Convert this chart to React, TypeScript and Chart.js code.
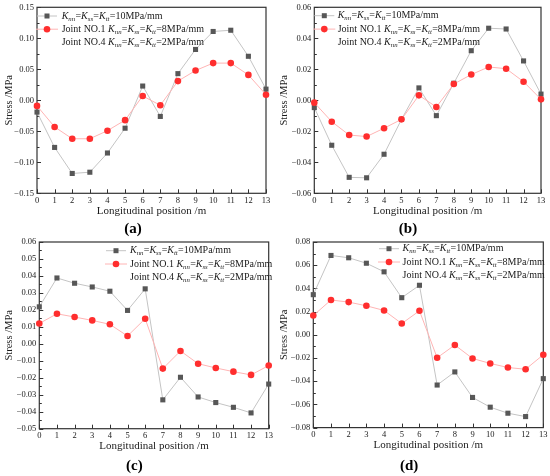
import React, { useEffect, useRef } from "react";
import { Chart, registerables } from "chart.js";

Chart.register(...registerables);

const FONT = "'Liberation Serif', 'DejaVu Serif', serif";
const TEXT = "#1a1a1a";

// ---- data ----
const positions = [0, 1, 2, 3, 4, 5, 6, 7, 8, 9, 10, 11, 12, 13];

const legendLabels = [
  "K_nn=K_ss=K_tt=10MPa/mm",
  "Joint NO.1 K_nn=K_ss=K_tt=8MPa/mm",
  "Joint NO.4 K_nn=K_ss=K_tt=2MPa/mm",
];

const greyA = [-0.019, -0.076, -0.118, -0.116, -0.085, -0.045, 0.023, -0.026, 0.043, 0.082, 0.111, 0.113, 0.071, 0.018];
const redA = [-0.009, -0.043, -0.062, -0.062, -0.049, -0.032, 0.007, -0.008, 0.031, 0.048, 0.06, 0.06, 0.041, 0.009];
const ticksA = [-0.15, -0.1, -0.05, 0, 0.05, 0.1, 0.15];

const greyB = [-0.0047, -0.029, -0.0497, -0.05, -0.0348, -0.0123, 0.008, -0.0099, 0.011, 0.032, 0.0465, 0.046, 0.0254, 0.004];
const redB = [-0.0015, -0.0138, -0.0224, -0.0234, -0.018, -0.0123, 0.0032, -0.0043, 0.0105, 0.0166, 0.0215, 0.0204, 0.012, 0.0006];
const ticksB = [-0.06, -0.04, -0.02, 0, 0.02, 0.04, 0.06];

const greyC = [0.0218, 0.0388, 0.0357, 0.0335, 0.031, 0.0197, 0.0324, -0.033, -0.0197, -0.0313, -0.0346, -0.0374, -0.0407, -0.0237];
const redC = [0.012, 0.0177, 0.0158, 0.0138, 0.0115, 0.0046, 0.0148, -0.0146, -0.0042, -0.0117, -0.0142, -0.0164, -0.0183, -0.0128];
const ticksC = [-0.05, -0.04, -0.03, -0.02, -0.01, 0, 0.01, 0.02, 0.03, 0.04, 0.05, 0.06];

const greyD = [0.0346, 0.0684, 0.0664, 0.0617, 0.0543, 0.032, 0.0427, -0.0433, -0.032, -0.054, -0.0624, -0.0676, -0.0705, -0.0378];
const redD = [0.0166, 0.03, 0.0282, 0.025, 0.021, 0.0097, 0.0207, -0.0198, -0.0088, -0.0204, -0.0247, -0.0282, -0.0297, -0.0172];
const ticksD = [-0.08, -0.06, -0.04, -0.02, 0, 0.02, 0.04, 0.06, 0.08];

// ---- layout (canvas-relative geometry) ----
const W = 275;
const H = 238;

type Panel = {
  name: string;
  grey: number[];
  red: number[];
  ticks: number[];
  x: number;
  y: number;
  l: number;
  t: number;
  r: number;
  b: number;
  markerX: number;
  textX: number;
  y0: number;
  dy: number;
  xTitleY: number;
  labelY: number;
};

const panels: Panel[] = [
  { name: "(a)", grey: greyA, red: redA, ticks: ticksA, x: 0, y: 0, l: 37, t: 7.3, r: 266, b: 193.3, markerX: 47, textX: 61.7, y0: 16, dy: 13.2, xTitleY: 210.7, labelY: 229.3 },
  { name: "(b)", grey: greyB, red: redB, ticks: ticksB, x: 275, y: 0, l: 39.3, t: 7.3, r: 266, b: 193.3, markerX: 49.3, textX: 62.7, y0: 15.7, dy: 13.4, xTitleY: 210.7, labelY: 230 },
  { name: "(c)", grey: greyC, red: redC, ticks: ticksC, x: 0, y: 238, l: 39.3, t: 3.3, r: 268.7, b: 190.7, markerX: 116, textX: 130, y0: 12.7, dy: 13.3, xTitleY: 208.3, labelY: 228.3 },
  { name: "(d)", grey: greyD, red: redD, ticks: ticksD, x: 275, y: 238, l: 38.3, t: 4, r: 268.3, b: 189.6, markerX: 114, textX: 127.5, y0: 10.7, dy: 13.3, xTitleY: 207.3, labelY: 227.7 },
];

const fmt = (v: number) => {
  const n = Math.abs(v) < 1e-9 ? 0 : v;
  return n.toFixed(2).replace("-", "\u2212");
};

function drawRich(ctx: CanvasRenderingContext2D, x: number, y: number, label: string, size: number) {
  const parts = label.split(/(K_[a-z]+)/).filter((p) => p.length > 0);
  ctx.textBaseline = "middle";
  ctx.textAlign = "left";
  ctx.fillStyle = TEXT;
  for (const p of parts) {
    if (p.startsWith("K_")) {
      ctx.font = `italic ${size}px ${FONT}`;
      ctx.fillText("K", x, y);
      x += ctx.measureText("K").width;
      const sub = p.slice(2);
      const ss = size * 0.68;
      ctx.font = `italic ${ss}px ${FONT}`;
      ctx.fillText(sub, x, y + size * 0.3);
      x += ctx.measureText(sub).width + 0.3;
    } else {
      ctx.font = `${size}px ${FONT}`;
      ctx.fillText(p, x, y);
      x += ctx.measureText(p).width;
    }
  }
}

function makeFramePlugin(p: Panel) {
  return {
    id: "frame",
    beforeDatasetsDraw(chart: any) {
      const { ctx, chartArea: a, scales } = chart;
      const xs = scales.x;
      const ys = scales.y;
      ctx.save();
      ctx.strokeStyle = "#333";
      ctx.lineWidth = 1.2;
      ctx.strokeRect(a.left, a.top, a.right - a.left, a.bottom - a.top);
      ctx.lineWidth = 1;
      ctx.beginPath();
      positions.forEach((_, i) => {
        const px = Math.round(xs.getPixelForValue(i)) + 0.5;
        ctx.moveTo(px, a.bottom);
        ctx.lineTo(px, a.bottom - 4);
      });
      p.ticks.forEach((v, i) => {
        const py = Math.round(ys.getPixelForValue(v)) + 0.5;
        ctx.moveTo(a.left, py);
        ctx.lineTo(a.left + 4, py);
        if (i < p.ticks.length - 1) {
          const mid = (v + p.ticks[i + 1]) / 2;
          const pm = Math.round(ys.getPixelForValue(mid)) + 0.5;
          ctx.moveTo(a.left, pm);
          ctx.lineTo(a.left + 2.5, pm);
        }
      });
      ctx.stroke();
      ctx.restore();
    },
  };
}

function makeLegendPlugin(p: Panel) {
  return {
    id: "richLegend",
    afterDatasetsDraw(chart: any) {
      const { ctx } = chart;
      ctx.save();
      const size = 10;
      // entry 1: grey square
      let y = p.y0;
      ctx.strokeStyle = "#c4c4c4";
      ctx.lineWidth = 1;
      ctx.beginPath();
      ctx.moveTo(p.markerX - 10, y);
      ctx.lineTo(p.markerX + 10, y);
      ctx.stroke();
      ctx.fillStyle = "#575757";
      ctx.fillRect(p.markerX - 2.5, y - 2.5, 5, 5);
      drawRich(ctx, p.textX, y, legendLabels[0], size);
      // entry 2: red circle
      y = p.y0 + p.dy;
      ctx.strokeStyle = "#ffb4b4";
      ctx.beginPath();
      ctx.moveTo(p.markerX - 11, y);
      ctx.lineTo(p.markerX + 11, y);
      ctx.stroke();
      ctx.fillStyle = "#ff2e2e";
      ctx.beginPath();
      ctx.arc(p.markerX, y, 3.3, 0, Math.PI * 2);
      ctx.fill();
      drawRich(ctx, p.textX, y, legendLabels[1], size);
      // entry 3: no marker
      y = p.y0 + p.dy * 2;
      drawRich(ctx, p.textX, y, legendLabels[2], size);
      ctx.restore();
    },
  };
}

function PanelChart({ p }: { p: Panel }) {
  const ref = useRef<HTMLCanvasElement>(null);
  useEffect(() => {
    if (!ref.current) return;
    const titleSize = 15;
    const titleLh = titleSize * 1.2;
    const pb = Math.max(0, H - p.labelY - titleLh / 2);
    const xTitleLh = 11 * 1.2;
    const boxTop = p.xTitleY + xTitleLh / 2;
    const pt = Math.max(0, H - titleLh - pb - boxTop);
    const xh = boxTop - p.b;
    const chart = new Chart(ref.current, {
      type: "line",
      data: {
        labels: positions.map(String),
        datasets: [
          {
            label: legendLabels[1],
            data: p.red,
            borderColor: "#ffb4b4",
            borderWidth: 1,
            pointStyle: "circle",
            pointRadius: 3.3,
            pointBackgroundColor: "#ff2e2e",
            pointBorderWidth: 0,
            tension: 0,
            order: 1,
            clip: false,
          } as any,
          {
            label: legendLabels[0],
            data: p.grey,
            borderColor: "#c4c4c4",
            borderWidth: 1,
            pointStyle: "rect",
            pointRadius: 3.6,
            pointBackgroundColor: "#575757",
            pointBorderWidth: 0,
            tension: 0,
            order: 2,
            clip: false,
          } as any,
        ],
      },
      options: {
        responsive: false,
        animation: false,
        events: [],
        layout: { padding: { left: 0, top: p.t, right: W - p.r, bottom: pb } },
        plugins: {
          legend: { display: false },
          tooltip: { enabled: false },
          title: {
            display: true,
            text: p.name,
            position: "bottom",
            color: "#000",
            font: { family: FONT, size: titleSize, weight: "bold", lineHeight: 1.2 },
            padding: { top: pt, bottom: 0 },
          },
        },
        scales: {
          x: {
            type: "category",
            offset: false,
            grid: { display: false, drawTicks: false },
            border: { display: false },
            ticks: {
              color: TEXT,
              font: { family: FONT, size: 8.5 },
              padding: 2,
              maxRotation: 0,
              autoSkip: false,
            },
            title: {
              display: true,
              text: "Longitudinal position /m",
              color: TEXT,
              font: { family: FONT, size: 11, lineHeight: 1.2 },
              padding: 0,
            },
            afterFit: (s: any) => {
              s.height = xh;
              s.paddingLeft = 0;
              s.paddingRight = 0;
            },
          },
          y: {
            type: "linear",
            min: p.ticks[0],
            max: p.ticks[p.ticks.length - 1],
            afterBuildTicks: (s: any) => {
              s.ticks = p.ticks.map((v) => ({ value: v }));
            },
            grid: { display: false, drawTicks: false },
            border: { display: false },
            ticks: {
              color: TEXT,
              font: { family: FONT, size: 8.5 },
              padding: 3,
              callback: (v: any) => fmt(Number(v)),
            },
            title: {
              display: true,
              text: "Stress /MPa",
              color: TEXT,
              font: { family: FONT, size: 10.5, lineHeight: 1.2 },
              padding: { top: 2.5, bottom: 0 },
            },
            afterFit: (s: any) => {
              s.width = p.l;
              s.paddingTop = 0;
              s.paddingBottom = 0;
            },
          },
        },
      } as any,
      plugins: [makeFramePlugin(p), makeLegendPlugin(p)],
    });
    return () => chart.destroy();
  }, []);
  return (
    <canvas
      ref={ref}
      width={W}
      height={H}
      style={{ position: "absolute", left: p.x, top: p.y, width: W, height: H }}
    />
  );
}

export default function App() {
  return (
    <div style={{ position: "absolute", left: 0, top: 0, width: 550, height: 476, background: "#fff" }}>
      {panels.map((p) => (
        <PanelChart key={p.name} p={p} />
      ))}
    </div>
  );
}
